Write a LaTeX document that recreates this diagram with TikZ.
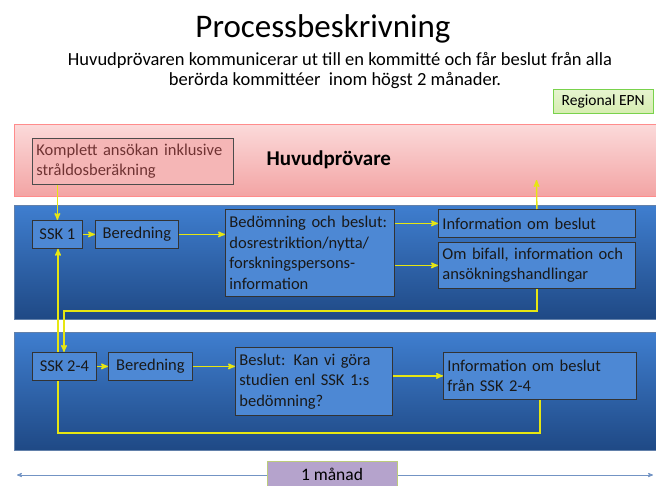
\documentclass[tikz,border=0pt]{standalone}
\usepackage{fontspec}
\setmainfont{Carlito}
\usetikzlibrary{arrows,positioning}
\definecolor{bandtop}{HTML}{3F7ECF}
\definecolor{bandbot}{HTML}{1F4985}
\definecolor{boxblue}{HTML}{4D88D4}
\definecolor{pinktop}{HTML}{FBDADA}
\definecolor{pinkbot}{HTML}{F3A4A4}
\definecolor{linkyel}{HTML}{E6E612}
\definecolor{epngreen}{HTML}{D6EDB0}
\definecolor{monthlila}{HTML}{B5A3CC}
\definecolor{tlblue}{HTML}{7394C4}

\begin{document}
\begin{tikzpicture}[x=1pt,y=-1pt,
    band/.style={anchor=north west,minimum width=642pt,top color=bandtop,bottom color=bandbot,draw=bandbot!70},
    stage/.style={anchor=north west,draw=black!80,thick,fill=boxblue,inner sep=3pt,
                  text=black!90,font=\fontsize{16.5}{20.5}\selectfont,align=left},
    link/.style={draw=linkyel,line width=1.4pt,->,>=stealth'}]
  \useasboundingbox (0,0) rectangle (656,485);

  % title
  \node[anchor=base] (title) at (323,37) {\fontsize{33}{38}\selectfont Processbeskrivning};
  \node[anchor=base,font=\fontsize{18.5}{20}\selectfont] (subtitle) at (340,65)
       {Huvudprövaren kommunicerar ut till en kommitté och får beslut från alla};
  \node[anchor=base,font=\fontsize{18.5}{20}\selectfont] (subtitle2) at (335,85)
       {berörda kommittéer~ inom högst 2 månader.};
  \node[anchor=north west,minimum width=100pt,minimum height=24pt,inner sep=1pt,
        top color=epngreen!60,bottom color=epngreen,draw=green!50!olive!70,
        font=\fontsize{15.5}{17}\selectfont] (epn) at (553,89) {Regional EPN};

  % bands
  \node[anchor=north west,minimum width=642pt,minimum height=72pt,
        top color=pinktop,bottom color=pinkbot,draw=red!45] (huvband) at (14,124) {};
  \node[band,minimum height=114pt] (band1) at (14,205) {};
  \node[band,minimum height=118pt] (band2) at (14,332) {};

  % Huvudprövare
  \node[stage,fill=pinkbot!80,draw=black!70,text=red!30!black!80,
        minimum width=201pt,minimum height=46pt,text width=193pt] (kompl) at (32,138)
       {Komplett ansökan inklusive\\stråldosberäkning};
  \node[anchor=west,font=\fontsize{21}{24}\selectfont\bfseries] (huvud) at (263,160) {Huvudprövare};

  % SSK 1
  \node[stage,minimum width=50pt,minimum height=28pt] (ssk1) at (32,220) {SSK 1};
  \node[stage,minimum width=83pt,minimum height=28pt] (bered1) at (95,220) {Beredning};
  \node[stage,minimum width=169pt,minimum height=87pt,text width=161pt] (bedom) at (225,209)
       {Bedömning och beslut:\\dosrestriktion/nytta/\\forskningspersons-\\information};
  \node[stage,minimum width=197pt,minimum height=28pt,text width=189pt] (info1) at (438,209)
       {Information om beslut};
  \node[stage,minimum width=197pt,minimum height=46pt,text width=189pt] (bifall) at (438,242)
       {Om bifall, information och\\ansökningshandlingar};

  % SSK 2-4
  \node[stage,minimum width=64pt,minimum height=28pt] (ssk2) at (32,352) {SSK 2-4};
  \node[stage,minimum width=84pt,minimum height=28pt] (bered2) at (108,352) {Beredning};
  \node[stage,minimum width=157pt,minimum height=68pt,text width=149pt] (beslut) at (235,347)
       {Beslut: Kan vi göra\\studien enl SSK 1:s\\bedömning?};
  \node[stage,minimum width=193pt,minimum height=47pt,text width=185pt] (info2) at (443,352)
       {Information om beslut\\från SSK 2-4};

  % connectors
  \coordinate (tohuv) at (536.5,180);
  \coordinate (ret1) at (64,311);
  \coordinate (ret2) at (58,433);
  \draw[link] (kompl.south -| ssk1.north) -- (ssk1.north);
  \draw[link] (ssk1) -- (bered1);
  \draw[link] (bered1.east) -- (bered1.east -| bedom.west);
  \draw[link] (bedom.east |- info1) -- (info1.west);
  \draw[link] (bedom.east |- bifall) -- (bifall.west);
  \draw[link] (info1.north) -- (tohuv);
  \draw[link] (bifall.south) |- (ret1) -- (ret1 |- ssk2.north);
  \draw[link] (ssk2) -- (bered2);
  \draw[link] (bered2.east) -- (bered2.east -| beslut.west);
  \draw[link] (beslut.east |- info2) -- (info2.west);
  \draw[draw=linkyel,line width=1.4pt] (info2.south) |- (ret2) -- (ret2 |- ssk2.south);
  \draw[link] (ret2 |- ssk2.north) -- (ret2 |- ssk1.south);

  % time line
  \coordinate (tlstart) at (17,475);
  \coordinate (tlend) at (653,475);
  \draw[tlblue,thick,<->,>=stealth'] (tlstart) -- (tlend);
  \node[minimum width=130pt,minimum height=26pt,fill=monthlila,draw=epngreen!70!olive,
        font=\fontsize{17.5}{20}\selectfont] (month) at (332,474) {1 månad};
\end{tikzpicture}
\end{document}
